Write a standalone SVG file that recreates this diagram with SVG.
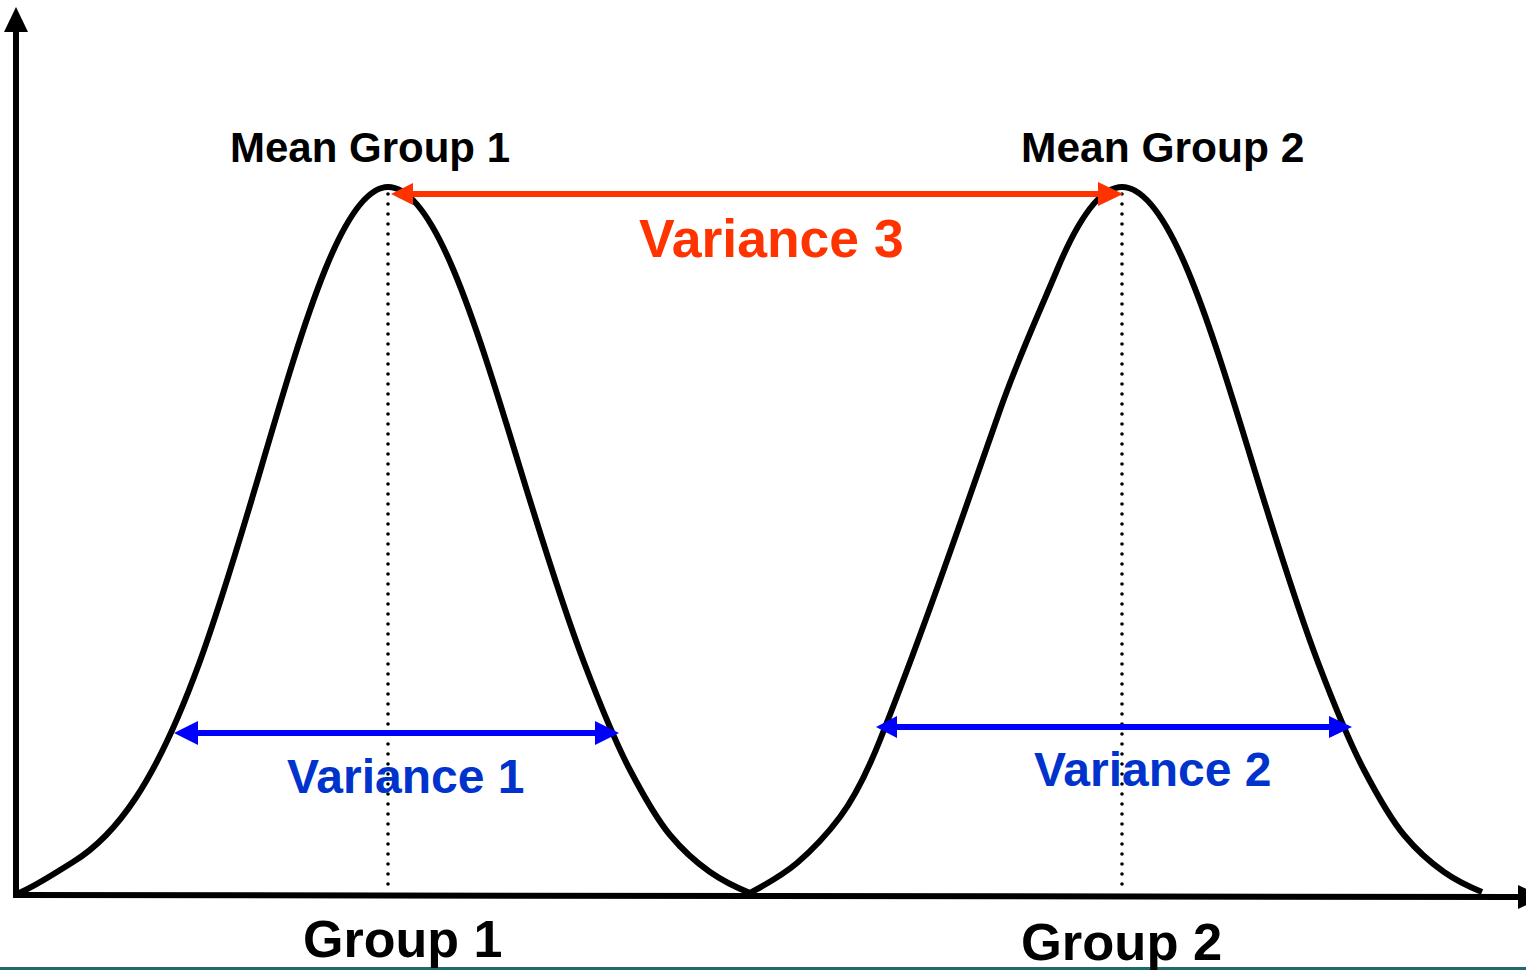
<svg xmlns="http://www.w3.org/2000/svg" width="1526" height="970" viewBox="0 0 1526 970">
  <style>
    .lbl { font-family: "Liberation Sans", Arial, sans-serif; font-weight: bold; }
    .curve { fill: none; stroke: #000; stroke-width: 6; stroke-linejoin: round; }
    .dots { fill: none; stroke: #000; stroke-width: 3.6; stroke-dasharray: 0 10; stroke-linecap: round; }
    .axis { stroke: #000; stroke-width: 6; fill: none; }
    .red { stroke: #FF3300; stroke-width: 6; fill: none; }
    .blue { stroke: #0000FF; stroke-width: 6; fill: none; }
  </style>
  <rect x="0" y="0" width="1526" height="970" fill="#fff"/>
  <rect x="0" y="967" width="1526" height="3" fill="#1F6B67"/>

  <g id="axes">
    <line class="axis" x1="16" y1="28" x2="16" y2="898"/>
    <polygon points="16,7 28,32 4,32" fill="#000"/>
    <line class="axis" x1="13" y1="895" x2="1520" y2="897"/>
    <polygon points="1543,897 1518,885 1518,909" fill="#000"/>
  </g>

  <g id="curve-group1">
    <path class="curve" d="M19,893 C36.3,885.7 54.7,873.3 73,862 C94,849.1 115,829.3 136,797.5 C157,765.7 178,721.1 199,663.8 C220,606.5 241,536.2 262,464.8 C283,393.4 304,321.9 325,270 C346,218.1 367,187 388,187 C409.8,187 431.7,218.1 453.5,270 C475.3,321.9 497.2,393.4 519,464.8 C540.8,536.2 562.7,606.5 584.5,663.8 C599.7,703.6 614.8,741.2 630,770 C643.3,795.3 656.7,819 670,835 C683.3,851 696.7,862.7 710,872 C723.3,881.3 736.7,887.7 750,893"/>
    <line class="dots" x1="388" y1="194" x2="388" y2="890"/>
  </g>

  <g id="curve-group2">
    <path class="curve" d="M750,893 C765.7,884.4 781.3,876.3 797,863 C811.3,850.8 825.7,836.1 840,817 C853.3,799.3 866.7,773.3 880,740 C920,640 960,524 1000,410 C1019,356 1038,315.6 1057,270 C1078.7,218 1100.3,187 1122,187 C1143.8,187 1165.7,218.1 1187.5,270 C1209.3,321.9 1231.2,393.4 1253,464.8 C1274.8,536.2 1296.7,606.5 1318.5,663.8 C1333.7,703.6 1348.8,741.2 1364,770 C1377.3,795.3 1390.7,819 1404,835 C1417.3,851 1430.7,862.7 1444,872 C1457.3,881.3 1469,886.7 1482,892"/>
    <line class="dots" x1="1122" y1="194" x2="1122" y2="890"/>
  </g>

  <g id="connectors">
    <g id="variance3-arrow">
      <line class="red" x1="410" y1="194" x2="1100" y2="194"/>
      <polygon points="391,194 413,183 413,205" fill="#FF3300"/>
      <polygon points="1123,194 1098,182 1098,206" fill="#FF3300"/>
    </g>
    <g id="variance1-arrow">
      <line class="blue" x1="195" y1="733" x2="598" y2="733"/>
      <polygon points="174,733 198,721 198,745" fill="#0000FF"/>
      <polygon points="619,733 595,721 595,745" fill="#0000FF"/>
    </g>
    <g id="variance2-arrow">
      <line class="blue" x1="894" y1="727" x2="1332" y2="727"/>
      <polygon points="876,727 897,716 897,738" fill="#0000FF"/>
      <polygon points="1352,727 1329,716 1329,738" fill="#0000FF"/>
    </g>
  </g>

  <g id="label-mean1"><text class="lbl" x="230" y="162" font-size="42" fill="#000">Mean Group 1</text></g>
  <g id="label-mean2"><text class="lbl" x="1021" y="162" font-size="42.5" fill="#000">Mean Group 2</text></g>
  <g id="label-variance3"><text class="lbl" x="639" y="257" font-size="53.5" fill="#FF3300">Variance 3</text></g>
  <g id="label-variance1"><text class="lbl" x="287" y="793" font-size="48" fill="#0033CC">Variance 1</text></g>
  <g id="label-variance2"><text class="lbl" x="1034" y="786" font-size="48" fill="#0033CC">Variance 2</text></g>
  <g id="label-group1"><text class="lbl" x="303" y="957" font-size="52" fill="#000">Group 1</text></g>
  <g id="label-group2"><text class="lbl" x="1021" y="960" font-size="52.5" fill="#000">Group 2</text></g>
</svg>
